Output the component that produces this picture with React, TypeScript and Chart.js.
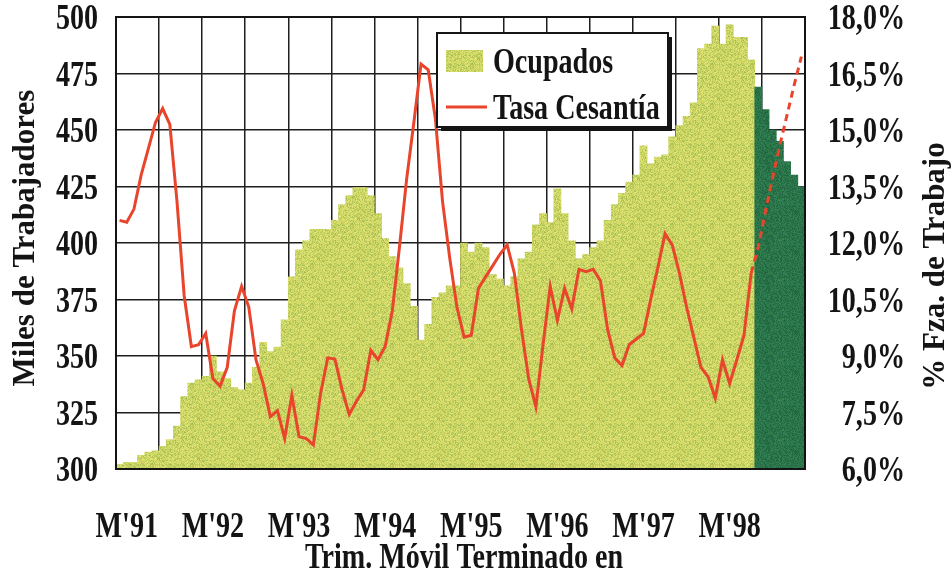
import { useEffect, useRef } from 'react';
import { Chart, registerables } from 'chart.js';

Chart.register(...registerables);

// ---------- data ----------
const monthNames = ['Ene', 'Feb', 'Mar', 'Abr', 'May', 'Jun', 'Jul', 'Ago', 'Sep', 'Oct', 'Nov', 'Dic'];
// monthly categories, Feb'91 .. Ene'99 (96 moving quarters)
const categories: string[] = Array.from({ length: 96 }, (_, i) => {
  const m = (i + 1) % 12;
  const yr = 91 + Math.floor((i + 1) / 12);
  return `${monthNames[m]}'${yr}`;
});

const xTickCategories = ["Mar'91", "Mar'92", "Mar'93", "Mar'94", "Mar'95", "Mar'96", "Mar'97", "Mar'98"];
const xTickLabels = ["M'91", "M'92", "M'93", "M'94", "M'95", "M'96", "M'97", "M'98"];

const leftTicks = [300, 325, 350, 375, 400, 425, 450, 475, 500];
const rightTicks = [6, 7.5, 9, 10.5, 12, 13.5, 15, 16.5, 18];

// Ocupados (miles) – observed
const ocupadosObs = [
  302, 303, 303, 306, 307.5, 308, 310, 313, 319, 332,
  338, 339.5, 341, 350, 343, 340, 336, 335, 338, 345,
  356, 352, 354, 366, 385, 397, 401, 406, 406, 406,
  410, 417, 421, 424.5, 424.5, 421, 413, 402, 394, 389,
  382, 372, 357, 364, 376, 378, 381, 381, 400, 396,
  400, 398, 386, 384, 381, 385, 393, 396, 408, 413,
  409, 424, 413, 401, 393, 395, 398, 401, 410, 417,
  422, 427, 430, 443, 435, 438, 439, 447, 452, 456,
  462, 486, 488, 496, 488, 496.5, 491, 491, 481,
];
// Ocupados – projected
const ocupadosProy = [469, 459, 450, 445, 436, 430, 425];

// Tasa de cesantía (%) – observed
const tasaObs = [
  12.6, 12.55, 12.9, 13.8, 14.5, 15.2, 15.57, 15.15, 13.1, 10.6,
  9.25, 9.3, 9.6, 8.4, 8.2, 8.7, 10.2, 10.85, 10.3, 8.9,
  8.27, 7.39, 7.55, 6.81, 7.96, 6.86, 6.81, 6.64, 8.0, 8.95,
  8.92, 8.1, 7.45, 7.8, 8.1, 9.15, 8.9, 9.25, 10.2, 11.9,
  13.7, 15.2, 16.75, 16.6, 15.3, 13.1, 11.6, 10.3, 9.5, 9.55,
  10.8, 11.1, 11.4, 11.7, 11.95, 11.2, 9.7, 8.4, 7.65, 9.3,
  10.85, 9.95, 10.8, 10.25, 11.3, 11.24, 11.3, 11.0, 9.7, 8.95,
  8.75, 9.3, 9.45, 9.6, 10.5, 11.35, 12.25, 11.95, 11.2, 10.3,
  9.5, 8.7, 8.45, 7.88, 8.9, 8.27, 8.9, 9.55, 11.2,
];
// Tasa de cesantía – projected
const tasaProy = [11.9, 12.85, 13.75, 14.6, 15.4, 16.2, 16.95];

// ---------- style ----------
const SERIF = '"Liberation Serif", "Times New Roman", serif';
const RED = '#e8452c';
const GRID = '#1e1e1e';
const INK = '#141414';
const SQUEEZE = 0.78;

function makeTexture(colors: string[], seed: number): CanvasPattern | string {
  const c = document.createElement('canvas');
  c.width = 40;
  c.height = 40;
  const g = c.getContext('2d');
  if (!g) return colors[0];
  let s = seed >>> 0;
  const next = () => {
    s = (Math.imul(s, 1103515245) + 12345) >>> 0;
    return (s >>> 8) / 16777216;
  };
  for (let y = 0; y < 40; y++) {
    for (let x = 0; x < 40; x++) {
      g.fillStyle = colors[Math.floor(next() * colors.length)];
      g.fillRect(x, y, 1, 1);
    }
  }
  return g.createPattern(c, 'repeat') || colors[0];
}

function squeezedText(ctx: CanvasRenderingContext2D, text: string, x: number, y: number, align: CanvasTextAlign, size: number) {
  ctx.save();
  ctx.translate(x, y);
  ctx.scale(SQUEEZE, 1);
  ctx.font = `bold ${size}px ${SERIF}`;
  ctx.textAlign = align;
  ctx.textBaseline = 'alphabetic';
  ctx.fillStyle = INK;
  ctx.fillText(text, 0, 0);
  ctx.restore();
}

export default function App() {
  const ref = useRef<HTMLCanvasElement | null>(null);

  useEffect(() => {
    const canvas = ref.current;
    if (!canvas) return;

    const light = makeTexture(['#dcdf6c', '#cbd663', '#b9cb5a', '#a9bf55', '#e4e27a', '#c4d15e', '#d3da66'], 12345);
    const dark = makeTexture(['#2c7a4b', '#246c42', '#338353', '#216342', '#2a7448'], 777);

    const ocupados = [...ocupadosObs, ...ocupadosProy];
    const tasa = [...tasaObs, ...tasaProy];
    const split = ocupadosObs.length;
    const barColors = ocupados.map((_, i) => (i < split ? light : dark));

    const decor = {
      id: 'decor',
      afterDatasetsDraw(chart: any) {
        const { ctx, chartArea: a } = chart;
        ctx.save();
        ctx.strokeStyle = INK;
        ctx.lineWidth = 2;
        ctx.strokeRect(a.left, a.top, a.right - a.left, a.bottom - a.top);
        ctx.restore();
      },
      afterDraw(chart: any) {
        const { ctx } = chart;
        const ys = chart.scales.y;
        const y1 = chart.scales.y1;
        const xs = chart.scales.x;

        // left tick labels
        leftTicks.forEach((v) => {
          squeezedText(ctx, String(v), 98, ys.getPixelForValue(v) + 12, 'right', 36);
        });
        // right tick labels
        rightTicks.forEach((v) => {
          squeezedText(ctx, v.toFixed(1).replace('.', ',') + '%', 905, y1.getPixelForValue(v) + 12, 'right', 36);
        });
        // x tick labels
        xTickCategories.forEach((c, k) => {
          const idx = categories.indexOf(c);
          squeezedText(ctx, xTickLabels[k], xs.getPixelForValue(idx), 537, 'center', 36);
        });
        // x title
        squeezedText(ctx, 'Trim. Móvil Terminado en', 464, 568, 'center', 36);

        // rotated titles
        ctx.save();
        ctx.font = `bold 31px ${SERIF}`;
        ctx.fillStyle = INK;
        ctx.textAlign = 'center';
        ctx.textBaseline = 'alphabetic';
        ctx.translate(34, 238);
        ctx.rotate(-Math.PI / 2);
        ctx.fillText('Miles de Trabajadores', 0, 0);
        ctx.restore();

        ctx.save();
        ctx.font = `bold 31px ${SERIF}`;
        ctx.fillStyle = INK;
        ctx.textAlign = 'center';
        ctx.textBaseline = 'alphabetic';
        ctx.translate(944, 266);
        ctx.rotate(-Math.PI / 2);
        ctx.fillText('% Fza. de Trabajo', 0, 0);
        ctx.restore();

        // legend
        const L = 437, T = 33, W = 231, H = 94;
        ctx.save();
        ctx.fillStyle = INK;
        ctx.fillRect(L + 4, T + 4, W, H);
        ctx.fillStyle = '#ffffff';
        ctx.fillRect(L, T, W, H);
        ctx.strokeStyle = INK;
        ctx.lineWidth = 2;
        ctx.strokeRect(L, T, W, H);
        ctx.fillStyle = light as any;
        ctx.fillRect(446, 50, 37, 22);
        ctx.strokeStyle = RED;
        ctx.lineWidth = 3;
        ctx.beginPath();
        ctx.moveTo(446, 107);
        ctx.lineTo(487, 107);
        ctx.stroke();
        ctx.restore();
        squeezedText(ctx, 'Ocupados', 493, 73, 'left', 36);
        squeezedText(ctx, 'Tasa Cesantía', 493, 119, 'left', 36);
      },
    };

    const chart = new Chart(canvas, {
      type: 'bar',
      data: {
        labels: categories,
        datasets: [
          {
            type: 'line',
            label: 'Tasa Cesantía',
            data: tasa,
            yAxisID: 'y1',
            borderColor: RED,
            backgroundColor: RED,
            borderWidth: 3,
            pointRadius: 0,
            tension: 0,
            order: 0,
            segment: {
              borderDash: (c: any) => (c.p0DataIndex >= split - 1 ? [7, 5] : undefined),
            },
          } as any,
          {
            type: 'bar',
            label: 'Ocupados',
            data: ocupados,
            yAxisID: 'y',
            backgroundColor: barColors as any,
            borderWidth: 0,
            categoryPercentage: 1,
            barPercentage: 1,
            order: 1,
          },
        ],
      },
      options: {
        responsive: false,
        animation: false,
        events: [],
        layout: { padding: { left: 116, right: 147, top: 17, bottom: 111 } },
        plugins: { legend: { display: false }, tooltip: { enabled: false } },
        scales: {
          x: {
            offset: true,
            grid: {
              offset: true,
              color: (c: any) => (c.index % 6 === 0 ? GRID : 'rgba(0,0,0,0)'),
              lineWidth: 1.5,
              drawTicks: false,
            },
            border: { display: false },
            ticks: { display: false, autoSkip: false },
            afterFit: (s: any) => {
              s.height = 0;
            },
          },
          y: {
            position: 'left',
            min: 300,
            max: 500,
            ticks: { stepSize: 25, display: false },
            grid: { color: GRID, lineWidth: 1.5, drawTicks: false },
            border: { display: false },
            afterFit: (s: any) => {
              s.width = 0;
            },
          },
          y1: {
            position: 'right',
            min: 6,
            max: 18,
            ticks: { stepSize: 1.5, display: false },
            grid: { display: false, drawTicks: false },
            border: { display: false },
            afterFit: (s: any) => {
              s.width = 0;
            },
          },
        },
      },
      plugins: [decor],
    });

    return () => chart.destroy();
  }, []);

  return (
    <canvas
      ref={ref}
      width={952}
      height={580}
      style={{ position: 'fixed', left: 0, top: 0, width: 952, height: 580, display: 'block', background: '#fff' }}
    />
  );
}
